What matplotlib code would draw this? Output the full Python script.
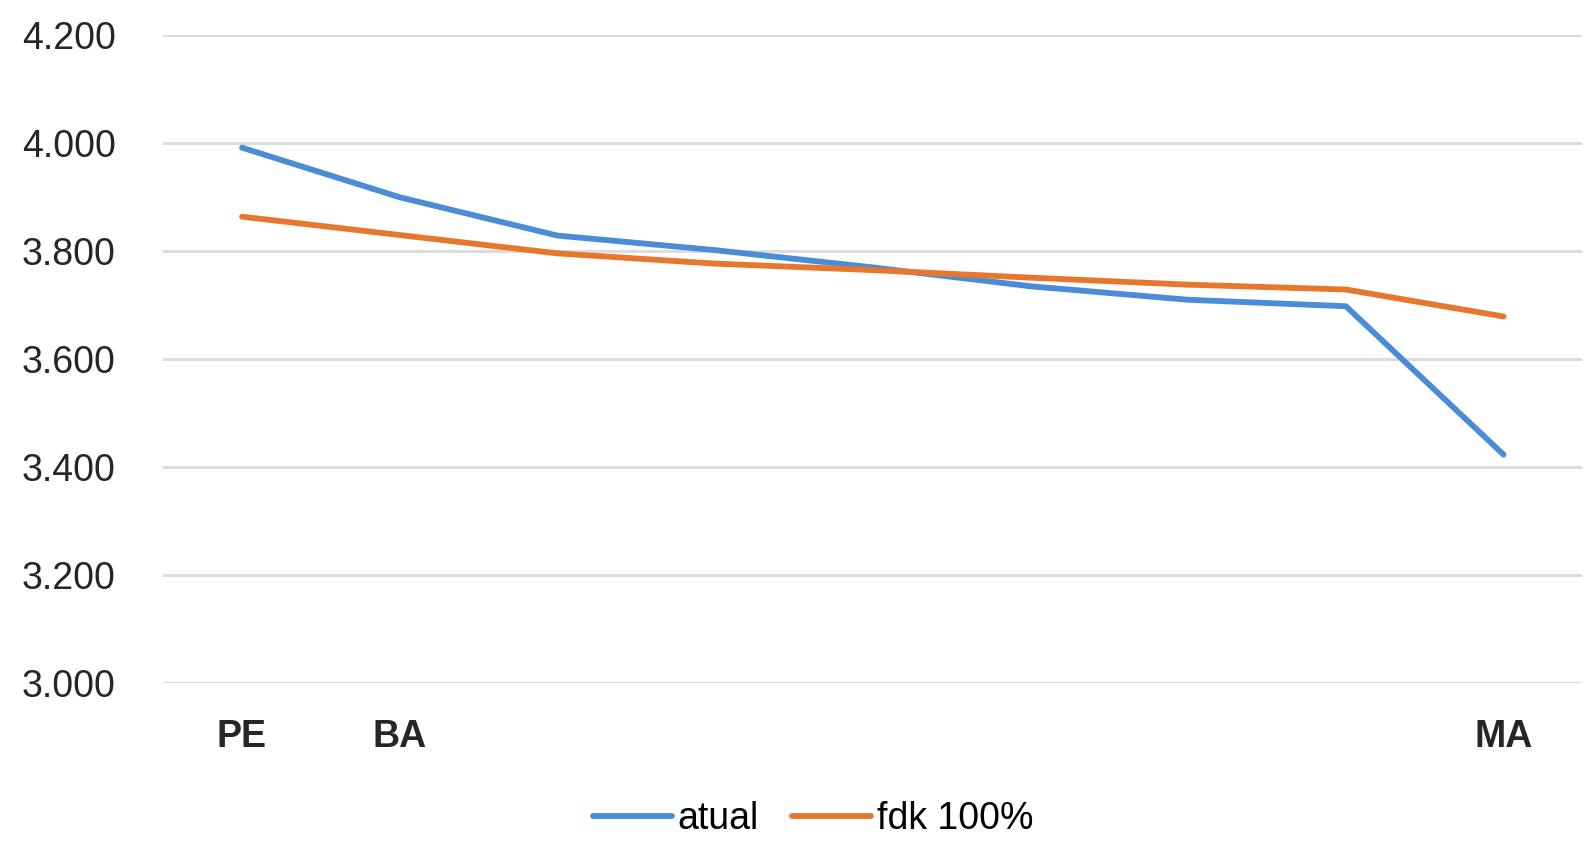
import matplotlib
matplotlib.use('Agg')
import matplotlib.pyplot as plt
from matplotlib.ticker import FuncFormatter

# data
states = ['PE', 'BA', '', '', '', '', '', '', 'MA']
atual = [3992, 3900, 3829, 3802, 3770, 3735, 3710, 3698, 3423]
fdk_100 = [3864, 3830, 3796, 3777, 3765, 3751, 3738, 3729, 3679]
y_ticks = [3000, 3200, 3400, 3600, 3800, 4000, 4200]

plt.rcParams['font.family'] = ['Liberation Sans', 'DejaVu Sans']

fig = plt.figure(figsize=(15.84, 8.43), dpi=100)
ax = fig.add_axes([0.103, 0.19, 0.896, 0.768])

x = range(len(states))
ax.plot(x, atual, color='#4A8DD6', linewidth=4.2, label='atual', solid_capstyle='round')
ax.plot(x, fdk_100, color='#E8772E', linewidth=4.2, label='fdk 100%', solid_capstyle='round')

ax.set_xlim(-0.5, len(states) - 0.5)
ax.set_ylim(3000, 4200)
ax.set_yticks(y_ticks)
ax.yaxis.set_major_formatter(FuncFormatter(lambda v, p: '{:,.0f}'.format(v).replace(',', '.')))
ax.set_xticks(list(x))
ax.set_xticklabels(states, fontweight='bold')

ax.grid(axis='y', color='#dcdcdc', linewidth=2.2)
ax.set_axisbelow(True)
for s in ax.spines.values():
    s.set_visible(False)
ax.tick_params(axis='both', length=0, labelsize=27, colors='#262626')
ax.tick_params(axis='y', pad=34)
ax.tick_params(axis='x', pad=26)

ax.legend(loc='lower center', bbox_to_anchor=(0.458, -0.29), ncol=2, frameon=False,
          fontsize=27, handlelength=2.1, handletextpad=0.15, columnspacing=0.9)

fig.savefig('out.png', dpi=100, facecolor='white')
